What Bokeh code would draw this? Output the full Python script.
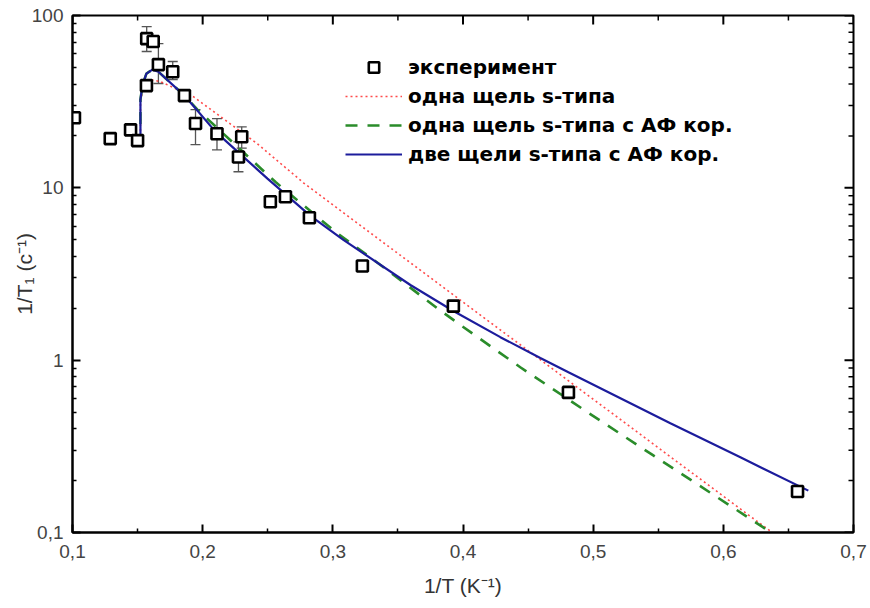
from bokeh.plotting import figure
from bokeh.models import (FixedTicker, Legend, LegendItem,
                          Whisker, TeeHead, ColumnDataSource)
from bokeh.embed import file_html
from bokeh.resources import INLINE

# ---- data ----
exp_x = [0.1015, 0.129, 0.1446, 0.150, 0.1568, 0.157, 0.162, 0.166, 0.177, 0.186,
         0.1945, 0.211, 0.230, 0.2275, 0.252, 0.2636, 0.282, 0.3227, 0.3926, 0.481, 0.657]
exp_y = [25.5, 19.3, 21.7, 18.8, 39.2, 73.4, 70.6, 51.9, 47.2, 34.3,
         23.6, 20.6, 19.8, 15.1, 8.3, 8.87, 6.7, 3.52, 2.06, 0.65, 0.173]

err_x = [0.157, 0.166, 0.177, 0.1945, 0.211, 0.230, 0.2275]
err_up = [86.3, 68.7, 54.1, 28.4, 25.2, 22.6, 18.5]
err_lo = [61.8, 40.3, 42.5, 17.8, 16.6, 17.0, 12.4]

red_x = [0.1522, 0.1522, 0.1545, 0.160, 0.1676, 0.1929, 0.2421, 0.2774, 0.3542,
         0.4825, 0.6154, 0.6438]
red_y = [17.5, 32.5, 37.2, 42.5, 41.3, 33.8, 18.0, 10.7, 3.94,
         0.745, 0.133, 0.0923]

green_x = [0.1522, 0.1522, 0.1538, 0.1568, 0.1614, 0.166, 0.186, 0.196, 0.256, 0.302,
           0.3366, 0.3803, 0.398, 0.444, 0.4956, 0.5462, 0.5954, 0.6307, 0.64]
green_y = [17.5, 32.5, 39.7, 46.0, 48.5, 47.2, 34.3, 28.4, 10.8, 5.55,
           3.57, 2.0, 1.60, 0.91, 0.499, 0.280, 0.160, 0.107, 0.095]

blue_x = [0.1522, 0.1522, 0.1538, 0.1568, 0.1614, 0.166, 0.186, 0.2098, 0.2498, 0.2828,
          0.3081, 0.3596, 0.3926, 0.4287, 0.4594, 0.481, 0.5286, 0.5593, 0.6131, 0.6653]
blue_y = [17.5, 32.5, 39.7, 46.0, 48.5, 47.2, 34.3, 21.2, 11.3, 6.87,
          4.99, 2.73, 1.93, 1.36, 1.03, 0.852, 0.562, 0.430, 0.273, 0.175]

x_ticks = [0.1, 0.2, 0.3, 0.4, 0.5, 0.6, 0.7]
x_minor = [0.15, 0.25, 0.35, 0.45, 0.55, 0.65]
x_labels = ["0,1", "0,2", "0,3", "0,4", "0,5", "0,6", "0,7"]
y_ticks = [0.1, 1, 10, 100]
y_minor = [0.2, 0.3, 0.4, 0.5, 0.6, 0.7, 0.8, 0.9,
           2, 3, 4, 5, 6, 7, 8, 9, 20, 30, 40, 50, 60, 70, 80, 90]
y_labels = ["0,1", "1", "10", "100"]

legend_labels = ["эксперимент", "одна щель s-типа",
                 "одна щель s-типа с АФ кор.", "две щели s-типа с АФ кор."]

X_MIN, X_MAX = 0.1, 0.7
Y_MIN, Y_MAX = 0.1, 100

# layout (pixels)
W, H = 870, 608
B_LEFT, B_RIGHT, B_TOP, B_BOTTOM = 72, 17, 15, 76
FRAME_W = W - B_LEFT - B_RIGHT
FRAME_H = H - B_TOP - B_BOTTOM
MAJOR_LEN, MINOR_LEN = 8, 4

# ---- figure ----
p = figure(width=W, height=H, x_range=(X_MIN, X_MAX), y_range=(Y_MIN, Y_MAX),
           y_axis_type="log", output_backend="svg", toolbar_location=None,
           min_border_left=B_LEFT, min_border_right=B_RIGHT, min_border_top=B_TOP,
           min_border_bottom=B_BOTTOM)
p.grid.visible = False
p.outline_line_color = "black"
p.outline_line_width = 2
p.background_fill_color = "white"
p.border_fill_color = "white"


def style_axis(ax):
    ax.axis_line_width = 2
    ax.axis_line_color = "black"
    ax.major_tick_in = MAJOR_LEN
    ax.major_tick_out = 0
    ax.minor_tick_in = MINOR_LEN
    ax.minor_tick_out = 0
    ax.major_tick_line_width = 2
    ax.minor_tick_line_width = 1.5
    ax.major_tick_line_color = "black"
    ax.minor_tick_line_color = "black"
    ax.major_label_text_font = "Liberation Sans"
    ax.major_label_text_font_size = "19px"
    ax.major_label_text_color = "#444444"
    ax.major_label_standoff = 12
    ax.axis_label_text_font = "Liberation Sans"
    ax.axis_label_text_font_size = "21px"
    ax.axis_label_text_font_style = "normal"
    ax.axis_label_text_color = "#333333"


xa = p.xaxis[0]
xa.ticker = FixedTicker(ticks=x_ticks, minor_ticks=x_minor)
xa.major_label_overrides = {t: l for t, l in zip(x_ticks, x_labels)}
xa.axis_label = "1/T (K⁻¹)"
style_axis(xa)
xa.axis_label_standoff = 13

ya = p.yaxis[0]
ya.ticker = FixedTicker(ticks=y_ticks, minor_ticks=y_minor)
ya.major_label_overrides = {t: l for t, l in zip(y_ticks, y_labels)}
ya.axis_label = "1/T₁ (c⁻¹)"
style_axis(ya)
ya.major_label_standoff = 9
ya.axis_label_standoff = -7

# ---- mirror ticks on top and right edges (lengths converted from pixels) ----
decades = 3.0  # log10(Y_MAX / Y_MIN)


def y_down(px):
    return Y_MAX * 10 ** (-px * decades / FRAME_H)


def x_left(px):
    return X_MAX - px * (X_MAX - X_MIN) / FRAME_W


p.segment(x0=x_ticks, x1=x_ticks, y0=[Y_MAX] * len(x_ticks),
          y1=[y_down(MAJOR_LEN + 1)] * len(x_ticks), line_color="black", line_width=2)
p.segment(x0=x_minor, x1=x_minor, y0=[Y_MAX] * len(x_minor),
          y1=[y_down(MINOR_LEN + 1)] * len(x_minor), line_color="black", line_width=1.5)
p.segment(x0=[X_MAX] * len(y_ticks), x1=[x_left(MAJOR_LEN + 1)] * len(y_ticks),
          y0=y_ticks, y1=y_ticks, line_color="black", line_width=2)
p.segment(x0=[X_MAX] * len(y_minor), x1=[x_left(MINOR_LEN + 1)] * len(y_minor),
          y0=y_minor, y1=y_minor, line_color="black", line_width=1.5)

# ---- curves ----
r_red = p.line(red_x, red_y, line_color="#ff2a2a", line_width=1.6,
               line_dash="2 3", line_alpha=0.85)
r_green = p.line(green_x, green_y, line_color="#2a8c2a", line_width=2.6,
                 line_dash="12 10")
r_blue = p.line(blue_x, blue_y, line_color="#1c1c9c", line_width=2.2)

# ---- error bars ----
esrc = ColumnDataSource(dict(x=err_x, up=err_up, lo=err_lo))
wh = Whisker(base="x", upper="up", lower="lo", source=esrc, dimension="height",
             line_color="#555555", line_width=1.3,
             upper_head=TeeHead(size=10, line_color="#555555", line_width=1.3),
             lower_head=TeeHead(size=10, line_color="#555555", line_width=1.3))
p.add_layout(wh)

# ---- experiment points ----
r_exp = p.scatter(exp_x, exp_y, marker="square", size=11, fill_color="white",
                  line_color="black", line_width=2.6)

legend = Legend(items=[LegendItem(label=legend_labels[0], renderers=[r_exp]),
                       LegendItem(label=legend_labels[1], renderers=[r_red]),
                       LegendItem(label=legend_labels[2], renderers=[r_green]),
                       LegendItem(label=legend_labels[3], renderers=[r_blue])],
                location=(273, 365))
legend.label_text_font = "DejaVu Sans"
legend.label_text_font_style = "bold"
legend.label_text_font_size = "20px"
legend.label_text_color = "black"
legend.glyph_width = 57
legend.glyph_height = 26
legend.label_height = 26
legend.label_standoff = 6
legend.spacing = 3
legend.padding = 0
legend.margin = 0
legend.border_line_color = None
legend.background_fill_alpha = 0
p.add_layout(legend)

open("out.html", "w").write(file_html(p, INLINE))
